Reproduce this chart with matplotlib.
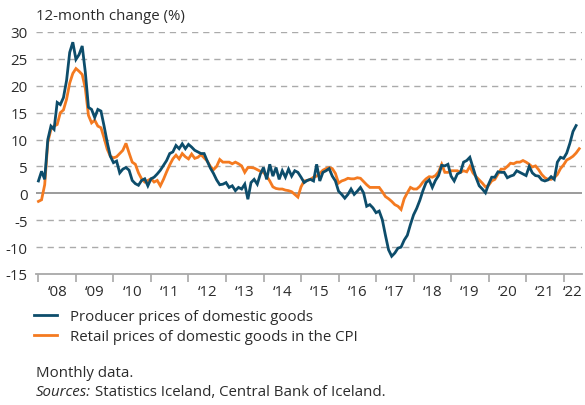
import numpy as np
import matplotlib
matplotlib.use('Agg')
import matplotlib.pyplot as plt
from matplotlib.lines import Line2D

# 12-month change (%), monthly, Jan 2008 onwards
producer = [
    2.3, 4.1, 2.6, 10.0, 12.5, 11.9, 16.9, 16.5, 17.8, 21.0, 26.2, 28.1,   # 2008
    24.9, 25.8, 27.4, 22.5, 16.0, 15.6, 14.1, 15.6, 15.3, 12.5, 9.5, 6.9,  # 2009
    5.7, 6.0, 3.8, 4.5, 4.8, 4.3, 2.4, 1.8, 1.5, 2.4, 2.7, 1.4,           # 2010
    2.7, 3.0, 3.6, 4.3, 5.2, 6.1, 7.4, 7.7, 8.9, 8.3, 9.2, 8.3,           # 2011
    9.1, 8.6, 8.0, 7.7, 7.4, 7.4, 6.0, 4.7, 3.7, 2.5, 1.6, 1.7,           # 2012
    2.0, 1.1, 1.4, 0.5, 1.1, 0.8, 1.7, -1.1, 2.0, 2.6, 1.7, 3.6,          # 2013
    4.8, 2.6, 5.4, 3.2, 4.8, 2.6, 4.2, 3.0, 4.5, 3.2, 4.2, 3.9,           # 2014
    3.0, 2.0, 2.4, 2.6, 2.3, 5.4, 2.3, 3.9, 4.2, 4.6, 3.2, 2.3,           # 2015
    0.4, -0.2, -0.9, -0.2, 0.8, -0.2, 0.4, 1.1, 0.1, -2.4, -2.1, -2.7,    # 2016
    -3.6, -3.3, -4.9, -7.8, -10.5, -11.7, -11.1, -10.2, -10.0, -8.7, -7.8, -5.8,  # 2017
    -4.0, -2.8, -1.3, 0.5, 2.0, 2.5, 1.1, 2.4, 3.3, 5.2, 5.1, 5.4,        # 2018
    3.2, 2.3, 3.6, 3.9, 5.8, 6.1, 6.7, 4.8, 2.9, 1.4, 0.8, 0.1,           # 2019
    1.7, 3.0, 3.0, 4.0, 3.9, 3.9, 2.9, 3.2, 3.4, 4.2, 3.9, 3.6,           # 2020
    3.3, 5.0, 3.8, 3.3, 3.2, 2.5, 2.3, 2.5, 3.1, 2.6, 5.8, 6.7,           # 2021
    6.5, 7.5, 9.3, 11.5, 12.6,                                            # 2022
]

retail = [
    -1.5, -1.2, 1.6, 9.5, 11.9, 12.5, 12.8, 15.0, 15.5, 17.5, 20.5, 22.3,  # 2008
    23.2, 22.7, 22.1, 19.5, 14.5, 13.1, 13.6, 12.5, 12.2, 10.3, 8.2, 6.9,  # 2009
    6.6, 6.8, 7.4, 8.0, 9.3, 7.5, 5.8, 5.4, 3.8, 2.7, 2.1, 2.4,            # 2010
    2.7, 2.1, 2.4, 1.4, 2.6, 4.0, 5.3, 6.4, 7.1, 6.4, 7.4, 6.8,            # 2011
    6.4, 7.3, 6.5, 6.7, 7.2, 6.6, 6.0, 5.0, 4.4, 5.0, 6.3, 5.8,            # 2012
    5.8, 5.8, 5.5, 5.8, 5.5, 5.1, 3.9, 4.8, 4.8, 4.7, 4.4, 4.1,            # 2013
    3.9, 3.2, 2.3, 1.2, 0.9, 0.8, 0.8, 0.6, 0.5, 0.3, -0.2, -0.7,          # 2014
    1.2, 2.3, 2.4, 2.6, 3.0, 3.2, 3.7, 4.3, 4.6, 4.8, 4.6, 3.7,            # 2015
    1.9, 2.3, 2.5, 2.8, 2.7, 2.7, 2.9, 2.8, 2.2, 1.6, 1.1, 1.1,            # 2016
    1.1, 1.1, 0.3, -0.6, -1.0, -1.5, -2.1, -2.4, -3.0, -1.0, 0.1, 1.1,     # 2017
    0.8, 0.8, 1.3, 2.1, 2.7, 3.1, 3.0, 3.3, 4.0, 5.4, 3.9, 3.9,            # 2018
    4.2, 4.2, 4.2, 3.9, 4.2, 4.0, 5.0, 3.8, 3.1, 2.5, 1.9, 1.2,            # 2019
    1.5, 2.3, 2.6, 3.6, 4.5, 4.5, 5.0, 5.6, 5.5, 5.8, 5.8, 6.1,            # 2020
    5.8, 5.4, 4.9, 5.1, 4.4, 3.5, 2.9, 2.6, 2.6, 2.9, 3.5, 4.6,            # 2021
    5.3, 6.2, 6.5, 6.9, 7.5, 8.3,                                          # 2022
]

years = list(range(2008, 2023))
year_labels = ['\u2018%02d' % (y % 100) for y in years]
yticks = [30, 25, 20, 15, 10, 5, 0, -5, -10, -15]

series_names = ['Producer prices of domestic goods',
                'Retail prices of domestic goods in the CPI']
blue = '#0d4d6b'
orange = '#f47a20'
txt = '#2b2b2b'
fs = 10.8

plt.rcParams['font.family'] = ['Open Sans', 'DejaVu Sans']

fig = plt.figure(figsize=(5.85, 4.06), dpi=100)
ax = fig.add_axes([36 / 585, 1 - 275 / 406, 546 / 585, 242 / 406])

x_prod = 2008 + np.arange(len(producer)) / 12
x_ret = 2008 + np.arange(len(retail)) / 12

for v in yticks:
    if v == 0:
        ax.axhline(v, color='#8a8a8a', lw=1.2, zorder=1)
    elif v != -15:
        ax.axhline(v, color='#ababab', lw=1.0, ls=(0, (4.5, 3.5)), zorder=1)

ax.plot(x_ret, retail, color=orange, lw=2.0, zorder=3, solid_joinstyle='miter')
ax.plot(x_prod, producer, color=blue, lw=2.0, zorder=4, solid_joinstyle='miter')

ax.set_ylim(-15, 30)
ax.set_xlim(2007.935, 2022.49)

for s in ['left', 'right', 'top']:
    ax.spines[s].set_visible(False)
ax.spines['bottom'].set_color('#a8a8a8')
ax.spines['bottom'].set_linewidth(1.3)

ax.set_yticks(yticks)
ax.set_yticklabels([str(v) for v in yticks])
ax.tick_params(axis='y', length=0, pad=6, labelsize=fs, labelcolor=txt)

ax.set_xticks(years)
ax.set_xticklabels([])
ax.tick_params(axis='x', which='major', direction='out', length=6,
               width=1.2, color='#a8a8a8')
label_pos = [y + 0.5 for y in years[:-1]] + [2022.25]
ax.set_xticks(label_pos, minor=True)
ax.set_xticklabels(year_labels, minor=True)
ax.tick_params(axis='x', which='minor', length=0, pad=7, labelsize=fs,
               labelcolor=txt)

fig.text(36 / 585, 1 - 16 / 406, '12-month change (%)', fontsize=fs,
         color=txt, va='center', ha='left')

handles = [Line2D([0], [0], color=blue, lw=2.0),
           Line2D([0], [0], color=orange, lw=2.0)]
fig.legend(handles, series_names, loc='upper left',
           bbox_to_anchor=(34 / 585, 1 - 310 / 406), frameon=False,
           fontsize=fs, handlelength=1.5, handletextpad=0.9,
           labelspacing=0.35, borderpad=0, borderaxespad=0,
           labelcolor=txt)

fig.text(36 / 585, 1 - 374 / 406, 'Monthly data.', fontsize=fs,
         color=txt, va='center', ha='left')
t1 = fig.text(36 / 585, 1 - 393 / 406, 'Sources:', fontsize=fs,
              color=txt, va='center', ha='left', style='italic')
fig.canvas.draw()
bb = t1.get_window_extent()
fig.text((bb.x1 + 4) / 585, 1 - 393 / 406,
         'Statistics Iceland, Central Bank of Iceland.', fontsize=fs,
         color=txt, va='center', ha='left')

fig.savefig('out.png', dpi=100)
